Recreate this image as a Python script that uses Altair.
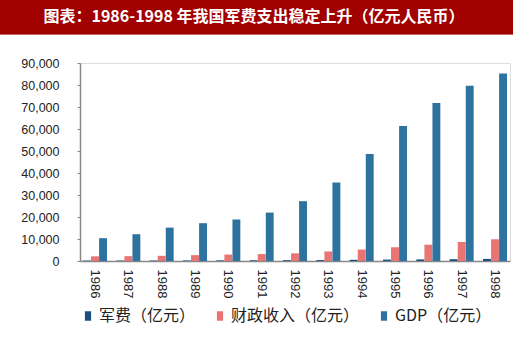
import altair as alt
import pandas as pd

years = [str(y) for y in range(1986, 1999)]
military = [201, 210, 218, 251, 290, 330, 378, 426, 551, 637, 720, 813, 935]
revenue = [2122, 2199, 2357, 2665, 2937, 3149, 3483, 4349, 5218, 6242, 7408, 8651, 9876]
gdp = [10376, 12175, 15181, 17180, 18873, 22006, 27195, 35674, 48638, 61340, 71814, 79715, 85196]
series = ["军费（亿元）", "财政收入（亿元）", "GDP（亿元）"]
colors = ["#1A4E7E", "#E87474", "#2E72A0"]
title_text = "图表：1986-1998 年我国军费支出稳定上升（亿元人民币）"

rows = []
for i, y in enumerate(years):
    for s, v in zip(series, [military[i], revenue[i], gdp[i]]):
        rows.append({"year": y, "series": s, "value": v})
df = pd.DataFrame(rows)

W, H = 430, 198

bars = alt.Chart(df).mark_bar().encode(
    x=alt.X("year:N", sort=years,
            scale=alt.Scale(paddingInner=0.28, paddingOuter=0.09),
            axis=alt.Axis(title=None, labelAngle=90, labelAlign="left", labelBaseline="middle",
                          labelFontSize=13, labelColor="#222222", labelPadding=8,
                          ticks=False, domainColor="#888888", domainWidth=1.5,
                          labelFont="Liberation Sans")),
    xOffset=alt.XOffset("series:N", sort=series,
                        scale=alt.Scale(paddingInner=0.02)),
    y=alt.Y("value:Q", scale=alt.Scale(domain=[0, 90000], nice=False),
            axis=alt.Axis(title=None, values=list(range(0, 90001, 10000)), format=",.0f",
                          labelFontSize=12.5, labelColor="#222222", labelPadding=18,
                          tickColor="#888888", tickSize=3, tickOffset=0,
                          domainColor="#888888", domainWidth=1.5, grid=False,
                          labelFont="Liberation Sans")),
    color=alt.Color("series:N", sort=series,
                    scale=alt.Scale(domain=series, range=colors),
                    legend=alt.Legend(title=None, orient="none", legendX=0, legendY=245,
                                      direction="horizontal",
                                      symbolType="M-0.65,-1H0.65V1H-0.65Z",
                                      symbolSize=90, labelFontSize=16, labelColor="#222222",
                                      labelFont="Noto Sans CJK SC", columnPadding=16,
                                      symbolOffset=0, labelOffset=3)),
)

band = alt.Chart(pd.DataFrame({"t": [title_text]})).mark_rect(color="#A00000").encode(
    x=alt.value(-80), x2=alt.value(433), y=alt.value(-63), y2=alt.value(-29)
)
band_line = alt.Chart(pd.DataFrame({"t": [title_text]})).mark_rule(
    color="#C86464", strokeWidth=1
).encode(x=alt.value(-80), x2=alt.value(433), y=alt.value(-28.5))
title = alt.Chart(pd.DataFrame({"t": [title_text]})).mark_text(
    color="white", fontSize=16, fontWeight="bold", font="Noto Sans CJK SC",
    align="center", baseline="middle"
).encode(x=alt.value(174), y=alt.value(-46), text="t:N")

chart = alt.layer(band, band_line, title, bars).properties(
    width=W, height=H,
    autosize=alt.AutoSizeParams(type="none"),
    padding={"left": 80, "top": 63, "right": 10, "bottom": 81},
).configure_view(stroke=None).configure(background="white")

chart.save("out.html", embed_options={"renderer": "svg", "actions": False})
